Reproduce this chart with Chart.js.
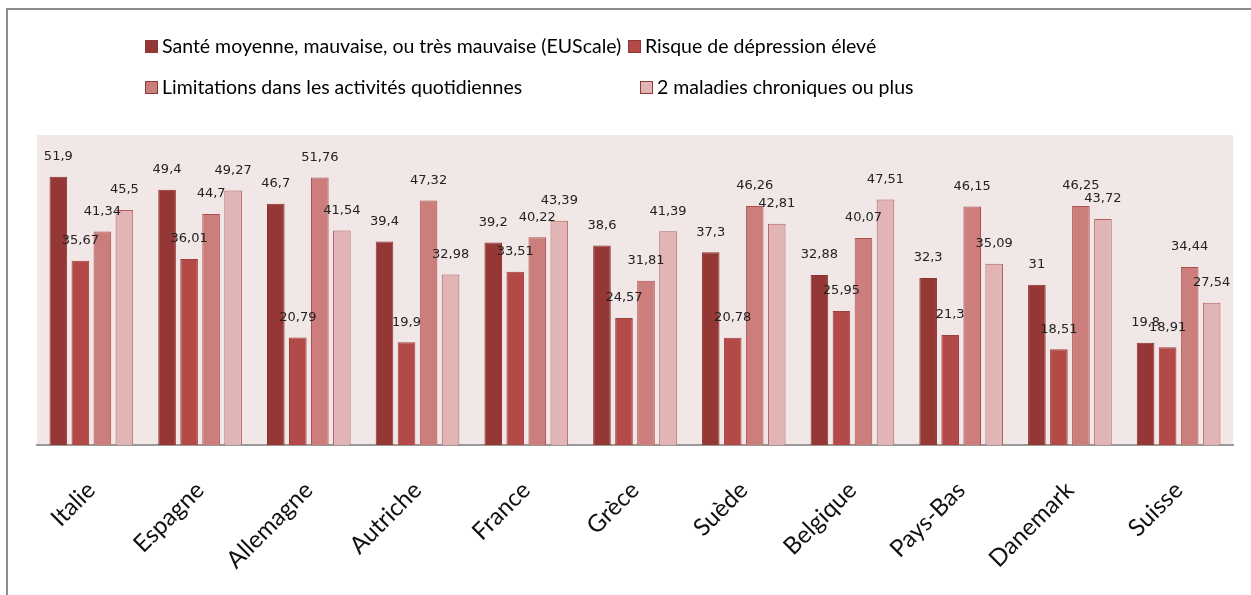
<!DOCTYPE html>
<html>
<head>
<meta charset="utf-8">
<script src="https://cdn.jsdelivr.net/npm/chart.js@4/dist/chart.umd.min.js"></script>
<style>
  html, body { margin: 0; padding: 0; background: #fff; overflow: hidden; }
  #wrap { position: relative; width: 1251px; height: 595px; overflow: hidden; }
  #chart { position: absolute; left: 0; top: 0; }
  .legend { position: absolute; font-family: Lato, sans-serif; font-size: 19.5px; color: #000;
            white-space: nowrap; line-height: 22px; }
  .legend span.box { display: inline-block; width: 11px; height: 11px; border: 1px solid #8b3a38;
                     margin-right: 4px; vertical-align: 0px; }
</style>
</head>
<body>
<div id="wrap">
  <canvas id="chart" width="1251" height="595"></canvas>
  <div id="legend"></div>
</div>
<script>
const countries = ['Italie', 'Espagne', 'Allemagne', 'Autriche', 'France', 'Grèce', 'Suède', 'Belgique', 'Pays-Bas', 'Danemark', 'Suisse'];
const santeMoyenne = [51.9, 49.4, 46.7, 39.4, 39.2, 38.6, 37.3, 32.88, 32.3, 31, 19.8];
const risqueDepression = [35.67, 36.01, 20.79, 19.9, 33.51, 24.57, 20.78, 25.95, 21.3, 18.51, 18.91];
const limitations = [41.34, 44.7, 51.76, 47.32, 40.22, 31.81, 46.26, 40.07, 46.15, 46.25, 34.44];
const maladiesChroniques = [45.5, 49.27, 41.54, 32.98, 43.39, 41.39, 42.81, 47.51, 35.09, 43.72, 27.54];
const seriesNames = [
  'Santé moyenne, mauvaise, ou très mauvaise (EUScale)',
  'Risque de dépression élevé',
  'Limitations dans les activités quotidiennes',
  '2 maladies chroniques ou plus'
];

const fills = ['#953735', '#b44a48', '#cc7e7d', '#e1b5b5'];
const borders = ['#8a3230', '#9e3f3d', '#a94f4d', '#b0605e'];

// legend laid out like the original (two columns)
const legendPos = [[145, 35], [628, 35], [145, 76], [640, 76]];
const legendEl = document.getElementById('legend');
seriesNames.forEach((name, i) => {
  const d = document.createElement('div');
  d.className = 'legend';
  d.style.left = legendPos[i][0] + 'px';
  d.style.top = legendPos[i][1] + 'px';
  d.innerHTML = `<span class="box" style="background:${fills[i]}"></span>`;
  d.appendChild(document.createTextNode(name));
  legendEl.appendChild(d);
});

// frame (left + top edge only) and pink plot area
const plotBg = {
  id: 'plotBg',
  beforeDraw(chart) {
    const { ctx, chartArea: a, width, height } = chart;
    ctx.save();
    ctx.strokeStyle = '#8c8c8c';
    ctx.lineWidth = 2;
    ctx.beginPath();
    ctx.moveTo(7, height);
    ctx.lineTo(7, 9);
    ctx.lineTo(width, 9);
    ctx.stroke();
    ctx.fillStyle = '#f2e7e7';
    ctx.fillRect(a.left, a.top, a.right - a.left, a.bottom - a.top);
    ctx.restore();
  }
};

// value labels above each bar, comma decimals
const valueLabels = {
  id: 'valueLabels',
  afterDatasetsDraw(chart) {
    const ctx = chart.ctx;
    ctx.save();
    ctx.font = '13px "DejaVu Sans"';
    ctx.fillStyle = '#222';
    ctx.textAlign = 'center';
    ctx.textBaseline = 'middle';
    chart.data.datasets.forEach((ds, i) => {
      chart.getDatasetMeta(i).data.forEach((bar, j) => {
        const txt = String(ds.data[j]).replace('.', ',');
        ctx.fillText(txt, bar.x, bar.y - 20);
      });
    });
    ctx.restore();
  }
};

const datasets = [santeMoyenne, risqueDepression, limitations, maladiesChroniques].map((d, i) => ({
  label: seriesNames[i],
  data: d,
  backgroundColor: fills[i],
  borderColor: borders[i],
  borderWidth: 1,
  categoryPercentage: 0.81,
  barPercentage: 0.8
}));

new Chart(document.getElementById('chart'), {
  type: 'bar',
  data: { labels: countries, datasets },
  options: {
    responsive: false,
    animation: false,
    layout: { padding: { left: 37, right: 18, top: 135, bottom: 0 } },
    plugins: { legend: { display: false }, tooltip: { enabled: false } },
    scales: {
      x: {
        grid: { display: false, drawTicks: false },
        border: { display: true, color: '#999', width: 2 },
        ticks: {
          color: '#111',
          font: { family: 'Lato', size: 24 },
          minRotation: 45,
          maxRotation: 45,
          autoSkip: false,
          padding: 31
        },
        afterFit(scale) { scale.height = 150; }
      },
      y: {
        display: false,
        min: 0,
        max: 60
      }
    }
  },
  plugins: [plotBg, valueLabels]
});
</script>
</body>
</html>
